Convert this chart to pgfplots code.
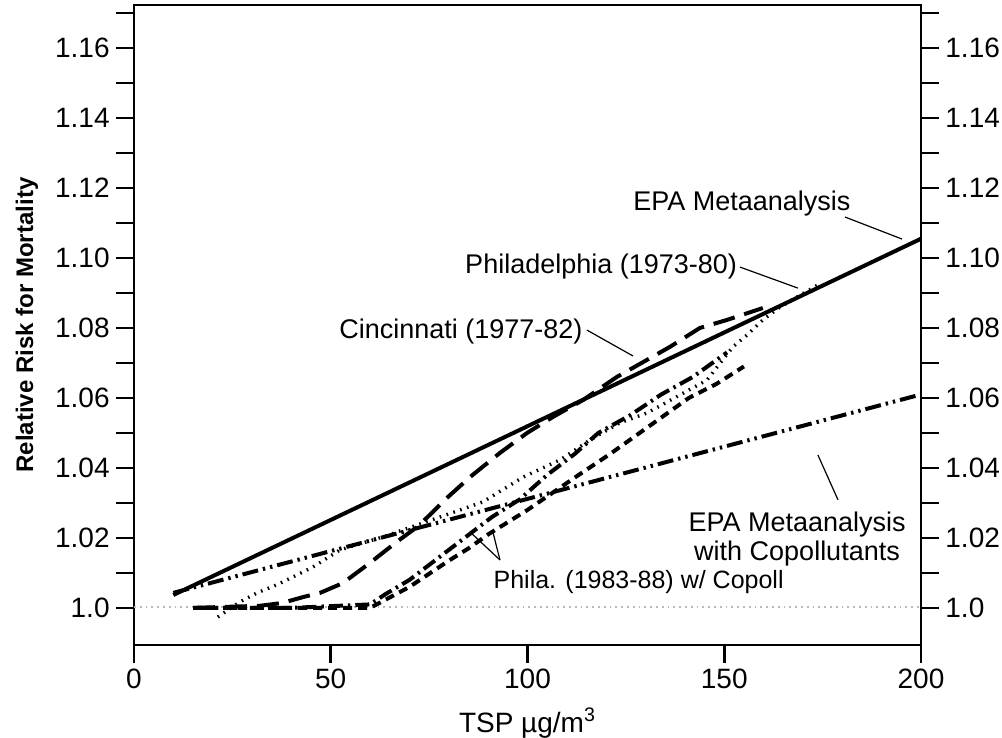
\documentclass[border=0pt]{standalone}
\usepackage{fontspec}
\setmainfont{Liberation Sans}
\usepackage{pgfplots}
\pgfplotsset{compat=1.18}
\begin{document}
\fontsize{13.5}{16}\selectfont
\begin{tikzpicture}
\useasboundingbox (-67pt,-46.5pt) rectangle (434pt,322.5pt);
\pgfplotsset{
  riskaxis/.style={
    scale only axis, width=393.5pt, height=320pt,
    xmin=0, xmax=200, ymin=0.9894, ymax=1.1723,
    axis line style={line width=1.4pt},
    tick style={line width=1.4pt, black},
    tick align=outside, major tick length=9pt,
    xtick={0,50,100,150,200},
    ytick={1.0,1.01,1.02,1.03,1.04,1.05,1.06,1.07,1.08,1.09,1.10,1.11,1.12,1.13,1.14,1.15,1.16,1.17},
    yticklabels={1.0,,1.02,,1.04,,1.06,,1.08,,1.10,,1.12,,1.14,,1.16,},
    ticklabel style={font=\fontsize{14}{16}\selectfont, inner sep=3pt},
    /pgf/number format/assume math mode=true,
    clip=false,
  },
}
\begin{axis}[riskaxis, name=ax,
  xtick pos=bottom, ytick pos=left,
  xticklabels={0,50,100,150,200},
]
% reference line at RR = 1
\addplot[gray!55, dotted, line width=0.9pt] coordinates {(0,1.0003) (200,1.0003)};

% EPA Metaanalysis
\addplot[black, line width=2pt] coordinates {(10,1.0037) (200,1.1055)};

% EPA Metaanalysis with Copollutants
\addplot[black, line width=2pt, dash pattern=on 8pt off 2.5pt on 1.2pt off 2.5pt on 1.2pt off 2.5pt]
  coordinates {(10,1.0043) (200,1.061)};

% Cincinnati (1977-82)
\addplot[black, line width=2pt, dash pattern=on 11pt off 5pt] coordinates {
(15,1.0) (32,1.0006) (37.6,1.0014) (43,1.0031) (47.3,1.0043) (53.1,1.0071)
(60,1.0129) (66.8,1.0189) (71.9,1.0231) (75.2,1.0266) (79.5,1.0314) (85.4,1.0374)
(93,1.0443) (99.9,1.05) (106.5,1.0546) (114.1,1.0594) (122.7,1.066) (130.4,1.0709)
(136.2,1.0746) (143.8,1.08) (150.7,1.0823) (159.8,1.0857)};

% Philadelphia (1973-80)
\addplot[black, line width=1.7pt, dash pattern=on 0.8pt off 2.8pt] coordinates {
(21.3,0.9974) (26.9,1.0017) (31.3,1.0043) (36.3,1.0066) (41.4,1.0094) (45.5,1.0117)
(52.4,1.0166) (63.3,1.0203) (77.8,1.026) (88.7,1.0303) (98.9,1.0374) (108.3,1.0423)
(115.9,1.048) (123.5,1.0529) (130.4,1.0557) (145.6,1.0651) (152.2,1.0746)
(155.8,1.078) (159.8,1.0823) (164.2,1.086) (173.8,1.0923)};

% Phila. (1983-88) w/ Copoll, first estimate
\addplot[black, line width=2pt, dash pattern=on 7pt off 2.5pt on 1.2pt off 2.5pt] coordinates {
(16,1.0) (40,1.0) (60,1.001) (64,1.004) (70,1.008) (77,1.014) (84,1.02) (91,1.026)
(98,1.031) (105,1.038) (112,1.044) (118,1.05) (126,1.055) (134,1.061) (142,1.066) (150.7,1.073)};

% Phila. (1983-88) w/ Copoll, second estimate
\addplot[black, line width=2pt, dash pattern=on 4.5pt off 3pt] coordinates {
(15,1.0) (40,1.0) (60,1.0) (70,1.006) (80,1.0135) (85,1.017) (90,1.021) (100,1.028)
(113,1.038) (121,1.044) (131,1.052) (141,1.06) (148,1.064) (155,1.069)};

% labels and pointers
\node at (axis cs:154.5,1.1157) {EPA Metaanalysis};
\draw[line width=0.6pt] (axis cs:180.7,1.1117) -- (axis cs:195.2,1.1054);
\node at (axis cs:118.7,1.0977) {Philadelphia (1973-80)};
\draw[line width=0.6pt] (axis cs:154,1.0974) -- (axis cs:168.7,1.0914);
\node at (axis cs:83.1,1.0789) {Cincinnati (1977-82)};
\draw[line width=0.6pt] (axis cs:115.1,1.0794) -- (axis cs:126.8,1.072);
\node[align=center, font=\fontsize{13.5}{14.5}\selectfont] at (axis cs:168.5,1.0198) {EPA Metaanalysis\\with Copollutants};
\draw[line width=0.6pt] (axis cs:178.9,1.0309) -- (axis cs:173.8,1.0437);
\node[font=\fontsize{12.5}{14}\selectfont, anchor=west, inner sep=0pt] at (axis cs:91.3,1.0073) {Phila. (1983-88) w/ Copoll};
\draw[line width=0.6pt] (axis cs:93,1.0137) -- (axis cs:85.4,1.0217);
\draw[line width=0.6pt] (axis cs:93,1.0137) -- (axis cs:91.2,1.0217);

\node[rotate=90, font=\bfseries\fontsize{12}{14}\selectfont] at (rel axis cs:-0.136,0.5) {Relative Risk for Mortality};
\node[font=\fontsize{14}{16}\selectfont] at (rel axis cs:0.5,-0.122) {TSP µg/m\textsuperscript{3}};
\end{axis}
\begin{axis}[riskaxis,
  axis x line=none, axis y line*=right,
  ytick pos=right, yticklabel pos=right,
  xticklabels={},
]
\addplot[draw=none] coordinates {(0,1.0) (200,1.0)};
\end{axis}
\end{tikzpicture}
\end{document}
